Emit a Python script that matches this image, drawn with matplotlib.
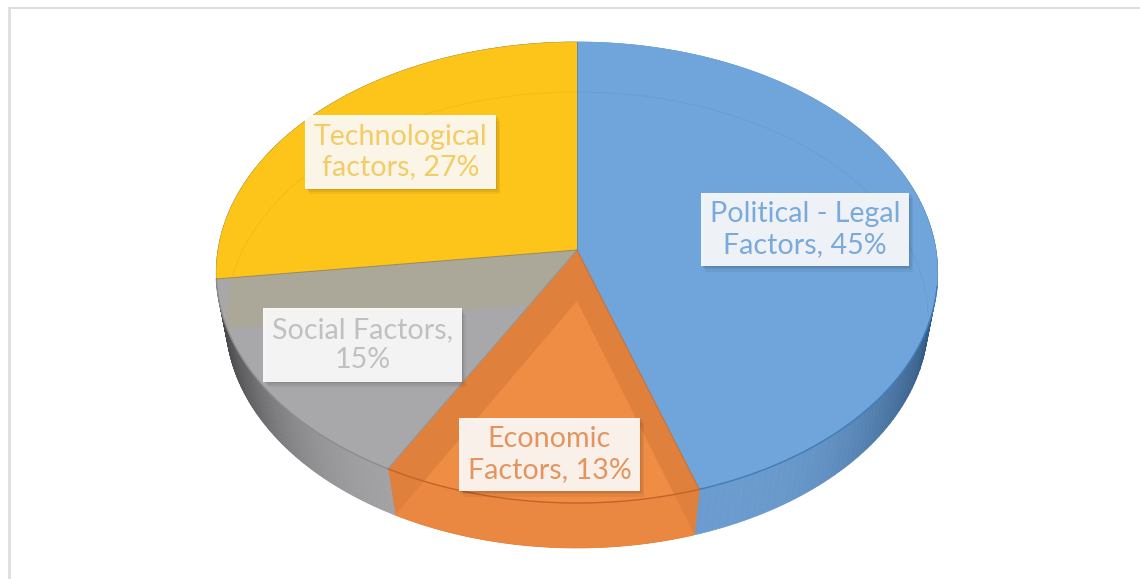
import numpy as np
import matplotlib
matplotlib.use('Agg')
import matplotlib.pyplot as plt
from matplotlib.patches import Polygon
from matplotlib import patheffects as pe
from matplotlib.colors import to_rgb

# data
values = [45, 13, 15, 27]
top_colors = ['#6fa5da', '#df803c', '#a8a8aa', '#fdc41a']
text_colors = ['#7aaadb', '#e5945e', '#c0c0c2', '#f4cc66']
# wall colour at the front and at the far end of each slice
wall_front = ['#6c9ccf', '#e07f3a', '#a4a4a6', '#505052']
wall_far = ['#2f567f', '#e07f3a', '#48484a', '#505052']
labels = ['Political - Legal\nFactors, 45%', 'Economic\nFactors, 13%', 'Social Factors,\n15%', 'Technological\nfactors, 27%']
label_x = [805, 549.5, 362.5, 400.5]
label_y = [229.5, 454.5, 345, 152]

plt.rcParams['font.family'] = ['Lato', 'DejaVu Sans']

fig = plt.figure(figsize=(11.40, 5.79), dpi=100)
ax = fig.add_axes([0, 0, 1, 1])
ax.set_xlim(0, 1140)
ax.set_ylim(579, 0)
ax.axis('off')

# frame of the screenshot
ax.plot([9, 9], [579, 8], color='#dedede', lw=2.0, solid_capstyle='butt')
ax.plot([8, 1140], [8, 8], color='#dedede', lw=1.4, solid_capstyle='butt')

######################################################
# tilted disc: perspective on the unit circle
def project(t, r=1.0, floor=False):
    x = r * np.sin(t)
    y = r * np.cos(t)
    if floor:
        w = 1 + 0.0833 * y
        return 577 + 350 * x / w, 301 - 226.4 * y / w
    w = 1 + 0.0976 * y
    return 577 + 359 * x / w, 250 - 228.3 * y / w

def wedge(a, b, floor=False):
    t = np.linspace(a, b, 120)
    px, py = project(t, floor=floor)
    cx, cy = project(0.0, 0.0, floor=floor)
    return np.column_stack([np.r_[cx, px], np.r_[cy, py]])

edges = np.r_[0, np.cumsum(values)] / np.sum(values) * 2 * np.pi

# walls
for i in range(4):
    t = np.linspace(edges[i], edges[i + 1], 140)
    c0 = np.array(to_rgb(wall_front[i]))
    c1 = np.array(to_rgb(wall_far[i]))
    for j in range(len(t) - 1):
        x0, y0 = project(t[j:j + 2])
        x1, y1 = project(t[j:j + 2], floor=True)
        # lit at the front, dark towards the side of the disc
        f = min(abs(x1[0] - 577) / 352, 1.0)
        f = max((f - 0.33) / 0.67, 0.0) ** 3
        col = c0 + (c1 - c0) * f
        ax.add_patch(Polygon(np.column_stack([np.r_[x0, x1[::-1]], np.r_[y0, y1[::-1]]]),
                             fc=col, ec=col, lw=0.5, zorder=2))

# orange floor showing through the orange wall
wall_t = np.linspace(edges[1], edges[2], 90)
wx0, wy0 = project(wall_t)
wx1, wy1 = project(wall_t, floor=True)
wall_poly = Polygon(np.column_stack([np.r_[wx0, wx1[::-1]], np.r_[wy0, wy1[::-1]]]), fc='none', ec='none', zorder=3)
ax.add_patch(wall_poly)
p = Polygon(wedge(edges[1], edges[2], floor=True), fc='#ea8842', ec='none', zorder=3)
ax.add_patch(p)
p.set_clip_path(wall_poly)

# top face
tops = []
for i in range(4):
    w = Polygon(wedge(edges[i], edges[i + 1]), fc=top_colors[i], ec=top_colors[i], lw=0.4, zorder=4)
    ax.add_patch(w)
    tops.append(w)

# floor seen through the top face
p = Polygon(wedge(edges[3], edges[4], floor=True), fc='#aba89a', ec='none', zorder=5)
ax.add_patch(p)
p.set_clip_path(tops[2])
p = Polygon(wedge(edges[1], edges[2], floor=True), fc='#f08d45', ec='none', zorder=5)
ax.add_patch(p)
p.set_clip_path(tops[1])

# faint rim of the floor
t = np.linspace(-np.pi * 0.52, np.pi * 0.52, 200)
fx, fy = project(t, floor=True)
for i, col in [(0, '#669ed5'), (3, '#f3bb18')]:
    l, = ax.plot(fx, fy, color=col, lw=0.7, zorder=5)
    l.set_clip_path(tops[i])

# dark lines at the slice borders and the front rim
rim = ['#3f7cb8', '#c2642a', '#8c8c8e', '#d9a418']
for i in range(4):
    t = np.linspace(max(edges[i], np.pi * 0.55), edges[i + 1], 120)
    fx, fy = project(t)
    if i < 3:
        ax.plot(fx, fy, color=rim[i], lw=1.0, zorder=6)
    poly = wedge(edges[i], edges[i + 1])
    ax.plot(poly[[0, 1], 0], poly[[0, 1], 1], color='#8a7a50' if i == 3 else rim[i], lw=0.7, alpha=0.7, zorder=6)

######################################################
# labels
for i in range(4):
    txt = ax.text(label_x[i], label_y[i], labels[i], color=text_colors[i], fontsize=20.6,
                  ha='center', va='center', linespacing=1.22, zorder=8,
                  bbox=dict(boxstyle='square,pad=0.3', fc='white', ec='none', alpha=0.9))
    txt.get_bbox_patch().set_path_effects([
        pe.SimplePatchShadow(offset=(1, -1), shadow_rgbFace='#000000', alpha=0.07),
        pe.SimplePatchShadow(offset=(2, -2), shadow_rgbFace='#000000', alpha=0.06),
        pe.SimplePatchShadow(offset=(3, -4), shadow_rgbFace='#000000', alpha=0.05),
        pe.Normal()])

plt.savefig('out.png', dpi=100)
